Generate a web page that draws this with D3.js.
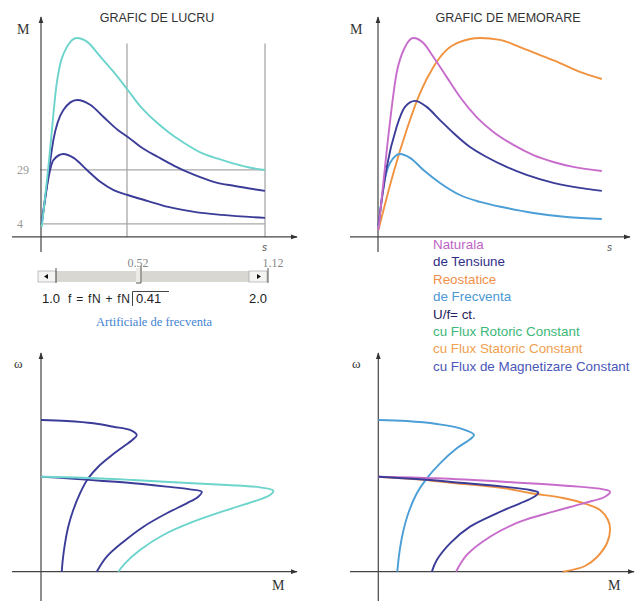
<!DOCTYPE html>
<html>
<head>
<meta charset="utf-8">
<script src="https://cdn.jsdelivr.net/npm/d3@7"></script>
<style>
body { margin: 0; background: #fff; }
svg { display: block; }
</style>
</head>
<body>
<div id="chart"></div>
<script>
// GRAFIC DE LUCRU : [s, M]
var lucruCyan = [[0.004,2.6],[0.037,30.4],[0.079,69.3],[0.13,86],[0.18,90.1],[0.231,88.3],[0.298,81.3],[0.363,74.4],[0.434,66],[0.499,58.2],[0.565,52.1],[0.636,46.6],[0.716,41.5],[0.802,36.9],[0.888,34.1],[0.969,31.8],[1.054,29.9],[1.12,29]];
var lucruMid = [[0.004,4.5],[0.029,21.1],[0.062,42.9],[0.112,56.8],[0.18,61.4],[0.248,59.1],[0.313,53.5],[0.384,47.5],[0.434,44.3],[0.499,39.6],[0.585,35],[0.666,30.9],[0.767,26.7],[0.868,23.4],[0.969,21.6],[1.12,19.3]];
var lucruLow = [[0.004,4.5],[0.029,21.1],[0.062,33.6],[0.112,36.4],[0.163,34.6],[0.23,29],[0.298,23.4],[0.363,19.7],[0.434,17.4],[0.535,14.6],[0.636,11.9],[0.767,9.6],[0.903,8.2],[1.12,6.8]];
var lucruHLines = [29, 4];
var lucruVLines = [0.43, 1.12];

// GRAFIC DE MEMORARE : [s, M]
var memNaturala = [[0.002,1.2],[0.044,38.3],[0.093,73.9],[0.135,85.9],[0.177,90.1],[0.227,87.8],[0.277,81.3],[0.343,72.1],[0.41,62.8],[0.493,53.5],[0.577,46.6],[0.677,40.6],[0.777,35.9],[0.877,32.7],[0.977,30.4],[1.119,28.5]];
var memReostat = [[0.002,1.2],[0.077,27.6],[0.143,47.5],[0.21,64.6],[0.277,76.7],[0.343,84.6],[0.41,88.3],[0.51,90.1],[0.61,89.2],[0.71,85.9],[0.81,82.2],[0.91,78.5],[1.01,74.4],[1.119,71.1]];
var memTensiune = [[0.002,3.5],[0.044,30.4],[0.093,48.9],[0.135,58.2],[0.185,61],[0.243,58.2],[0.31,52.1],[0.377,46.1],[0.46,39.6],[0.543,35],[0.643,30.4],[0.743,26.7],[0.877,23],[1.119,19.3]];
var memFrecventa = [[0.002,2.6],[0.027,21.1],[0.06,32.2],[0.11,36.4],[0.16,34.6],[0.227,29],[0.31,23],[0.41,17.4],[0.51,14.2],[0.643,11.4],[0.777,9.1],[0.943,7.2],[1.119,6.3]];

// mechanical characteristics : [M, omega]
var mecLucruUp = [[0,159.7],[10.3,158.6],[21,156.2],[29,152.6],[35.6,149.2],[38.3,143.9],[36.9,139.4],[32.9,131.6],[27.6,121.1],[22.9,110.5],[18.9,98.3],[15.6,82.5],[12.9,64.9],[10.9,47.4],[9.6,29.9],[8.7,12.3],[8.3,0]];
var mecLucruMid = [[0,100],[10.3,98.3],[23.6,95.8],[36.9,93.1],[50.3,89.5],[59.6,86.7],[64.3,84.2],[62.9,78.9],[58.3,72],[50.3,61.5],[41,47.4],[33,31.6],[26.3,15.8],[22.3,0]];
var mecLucruCyan = [[0,100],[17,98.9],[36.9,96.5],[56.9,93.7],[74.3,91.3],[87.6,88.8],[92.9,85.3],[91.6,80.7],[84.9,73.7],[74.3,64.9],[60.9,52.6],[48.9,38.6],[39.6,22.8],[33.6,8.8],[30.9,0]];
var mecFrecventa = [[0,159.7],[11.4,158.6],[23.4,155.5],[32.7,150.9],[38.3,143.9],[36.7,139.4],[31.4,129.9],[24.7,114.1],[19.4,98.3],[15.4,82.5],[12,61.5],[9.8,40.4],[8.4,19.4],[7.6,0]];
var mecTensiune = [[0,100],[16.7,97.3],[32.7,93.7],[50,89.5],[60.7,86],[64,83.2],[62,78.3],[56.7,72],[47.4,61.5],[36.7,47.4],[28.7,29.9],[23.4,12.3],[21.4,0]];
var mecNaturala = [[0,100],[23.4,98.3],[50,94.7],[76.7,90.2],[90,86.7],[92.7,84.2],[90.7,78.9],[82,72],[70,63.2],[56.7,52.6],[44.7,36.8],[35.4,17.6],[31.1,0]];
var mecReostat = [[0,100],[16.7,97.1],[29.9,93.4],[49.9,88.1],[60.7,82.8],[73.9,77.6],[81.9,72.3],[88.7,64.9],[91.9,54.4],[92.7,43.9],[91.5,30.2],[87.5,15.5],[82.7,6],[73.9,0]];

var legendLabels = ["Naturala", "de Tensiune", "Reostatice", "de Frecventa", "U/f= ct.", "cu Flux Rotoric Constant", "cu Flux Statoric Constant", "cu Flux de Magnetizare Constant"];
var legendColors = ["#c064c4", "#2e2e88", "#f0904a", "#4a98d4", "#23235e", "#3cb878", "#f0a050", "#4a56b8"];

var cCyan = "#6cd4cc", cNavy = "#3a3c98", cMag = "#c86ccc", cOrange = "#f0923e", cBlue = "#4c9ed6";

var svg = d3.select("#chart").append("svg").attr("width", 640).attr("height", 601);

var defs = svg.append("defs");
defs.append("marker").attr("id", "arr").attr("viewBox", "0 0 10 10").attr("refX", 9).attr("refY", 5)
  .attr("markerWidth", 6).attr("markerHeight", 6).attr("orient", "auto")
  .append("path").attr("d", "M0,1.5 L10,5 L0,8.5 Z").attr("fill", "#333");

var yT = d3.scaleLinear().domain([0, 100]).range([232.6, 16.6]);
var xTL = d3.scaleLinear().domain([0, 1.12]).range([41, 265]);
var xTR = d3.scaleLinear().domain([0, 1.12]).range([378, 602]);
var yB = d3.scaleLinear().domain([0, 100]).range([571.7, 476.7]);
var xBL = d3.scaleLinear().domain([0, 100]).range([41, 291]);
var xBR = d3.scaleLinear().domain([0, 100]).range([378.3, 628.3]);

function axes(x0, y0, xEnd, yTop, xStart, yBot) {
  svg.append("line").attr("x1", xStart).attr("x2", xEnd).attr("y1", y0).attr("y2", y0)
    .attr("stroke", "#444").attr("stroke-width", 1.2).attr("marker-end", "url(#arr)");
  svg.append("line").attr("x1", x0).attr("x2", x0).attr("y1", yBot).attr("y2", yTop)
    .attr("stroke", "#444").attr("stroke-width", 1.2).attr("marker-end", "url(#arr)");
}

function curve(data, x, y, color, smooth) {
  var line = d3.line().x(function(d) { return x(d[0]); }).y(function(d) { return y(d[1]); })
    .curve(smooth || d3.curveMonotoneX);
  svg.append("path").datum(data).attr("d", line).attr("fill", "none")
    .attr("stroke", color).attr("stroke-width", 1.9).attr("stroke-linejoin", "round");
}

// ---- top left
var gridG = svg.append("g");
gridG.selectAll("hl").data(lucruHLines).enter().append("line")
  .attr("x1", 40).attr("x2", xTL(1.12)).attr("y1", function(d) { return yT(d); }).attr("y2", function(d) { return yT(d); })
  .attr("stroke", "#a8a8a8").attr("stroke-width", 1.3);
gridG.selectAll("vl").data(lucruVLines).enter().append("line")
  .attr("x1", function(d) { return xTL(d); }).attr("x2", function(d) { return xTL(d); })
  .attr("y1", yT(87.5)).attr("y2", yT(-2))
  .attr("stroke", "#a8a8a8").attr("stroke-width", 1.3);
svg.selectAll("hlt").data(lucruHLines).enter().append("text")
  .attr("x", 17).attr("y", function(d) { return yT(d) + 4; })
  .attr("font-family", "Liberation Serif").attr("font-size", 12).attr("fill", "#999")
  .text(function(d) { return d; });

axes(41, yT(-2), 297, 17, 12, 252);
curve(lucruLow, xTL, yT, cNavy);
curve(lucruMid, xTL, yT, cNavy);
curve(lucruCyan, xTL, yT, cCyan);

// ---- top right
axes(378, yT(-2), 630, 17, 350, 252);
curve(memReostat, xTR, yT, cOrange);
curve(memFrecventa, xTR, yT, cBlue);
curve(memTensiune, xTR, yT, cNavy);
curve(memNaturala, xTR, yT, cMag);

// ---- bottom left
axes(41, yB(0), 297, 353, 12, 601);
curve(mecLucruUp, xBL, yB, cNavy, d3.curveCatmullRom);
curve(mecLucruMid, xBL, yB, cNavy, d3.curveCatmullRom);
curve(mecLucruCyan, xBL, yB, cCyan, d3.curveCatmullRom);

// ---- bottom right
axes(378.3, yB(0), 634, 353, 350, 601);
curve(mecReostat, xBR, yB, cOrange, d3.curveCatmullRom);
curve(mecFrecventa, xBR, yB, cBlue, d3.curveCatmullRom);
curve(mecNaturala, xBR, yB, cMag, d3.curveCatmullRom);
curve(mecTensiune, xBR, yB, cNavy, d3.curveCatmullRom);

// labels
var serif = "Liberation Serif";
svg.append("text").attr("x", 157).attr("y", 22).attr("text-anchor", "middle")
  .attr("font-family", "Liberation Sans").attr("font-size", 12.5).attr("fill", "#333").text("GRAFIC DE LUCRU");
svg.append("text").attr("x", 508).attr("y", 22).attr("text-anchor", "middle")
  .attr("font-family", "Liberation Sans").attr("font-size", 12.5).attr("fill", "#333").text("GRAFIC DE MEMORARE");
[[17, 34, "M"], [350, 34, "M"], [272, 590, "M"], [608, 590, "M"]].forEach(function(t) {
  svg.append("text").attr("x", t[0]).attr("y", t[1]).attr("font-family", serif).attr("font-size", 14)
    .attr("fill", "#333").text(t[2]);
});
[[14, 368], [352, 368]].forEach(function(t) {
  svg.append("text").attr("x", t[0]).attr("y", t[1]).attr("font-family", serif).attr("font-size", 13)
    .attr("fill", "#333").text("ω");
});
[[262, 251], [607, 251]].forEach(function(t) {
  svg.append("text").attr("x", t[0]).attr("y", t[1]).attr("font-family", "Liberation Sans").attr("font-style", "italic")
    .attr("font-size", 10).attr("fill", "#555").text("s");
});

// slider
var sl = svg.append("g");
sl.append("rect").attr("x", 38).attr("y", 271).attr("width", 230).attr("height", 11).attr("fill", "#d9d7d1");
sl.append("rect").attr("x", 38).attr("y", 271).attr("width", 18).attr("height", 11).attr("fill", "#f4f4f2").attr("stroke", "#999").attr("stroke-width", 0.6);
sl.append("rect").attr("x", 249).attr("y", 271).attr("width", 18).attr("height", 11).attr("fill", "#f4f4f2").attr("stroke", "#999").attr("stroke-width", 0.6);
sl.append("path").attr("d", "M44,276.5 L48,274 L48,279 Z").attr("fill", "#111");
sl.append("path").attr("d", "M261,276.5 L257,274 L257,279 Z").attr("fill", "#111");
sl.append("line").attr("x1", 56).attr("x2", 56).attr("y1", 268).attr("y2", 283).attr("stroke", "#555");
sl.append("line").attr("x1", 268).attr("x2", 268).attr("y1", 268).attr("y2", 283).attr("stroke", "#555");
sl.append("rect").attr("x", 136).attr("y", 268).attr("width", 6).attr("height", 14).attr("fill", "#ecebe6");
sl.append("line").attr("x1", 141).attr("x2", 141).attr("y1", 266).attr("y2", 283).attr("stroke", "#555");
sl.append("line").attr("x1", 136).attr("x2", 141).attr("y1", 283).attr("y2", 283).attr("stroke", "#555");
svg.append("text").attr("x", 138).attr("y", 267).attr("text-anchor", "middle").attr("font-family", serif)
  .attr("font-size", 12).attr("fill", "#888").text("0.52");
svg.append("text").attr("x", 273).attr("y", 267).attr("text-anchor", "middle").attr("font-family", serif)
  .attr("font-size", 12).attr("fill", "#888").text("1.12");
svg.append("text").attr("x", 42).attr("y", 303).attr("font-family", "Liberation Sans").attr("font-size", 13).attr("fill", "#222").text("1.0");
svg.append("text").attr("x", 68).attr("y", 303).attr("font-family", "Liberation Sans").attr("font-size", 12)
  .attr("textLength", 62).attr("fill", "#222").text("f = fN + fN");
svg.append("rect").attr("x", 132).attr("y", 291).attr("width", 37).attr("height", 15).attr("fill", "#fff");
svg.append("path").attr("d", "M132.5,306 L132.5,291.5 L169,291.5").attr("fill", "none").attr("stroke", "#444");
svg.append("text").attr("x", 136).attr("y", 303).attr("font-family", "Liberation Sans").attr("font-size", 13).attr("fill", "#222").text("0.41");
svg.append("text").attr("x", 249).attr("y", 303).attr("font-family", "Liberation Sans").attr("font-size", 13).attr("fill", "#222").text("2.0");
svg.append("text").attr("x", 154).attr("y", 326).attr("text-anchor", "middle").attr("font-family", serif)
  .attr("font-size", 12.5).attr("fill", "#3f83d0").text("Artificiale de frecventa");

// legend
svg.selectAll("leg").data(legendLabels).enter().append("text")
  .attr("x", 433).attr("y", function(d, i) { return 249 + i * 17.4; })
  .attr("font-family", "Liberation Sans").attr("font-size", 13.4)
  .attr("fill", function(d, i) { return legendColors[i]; })
  .text(function(d) { return d; });
</script>
</body>
</html>
